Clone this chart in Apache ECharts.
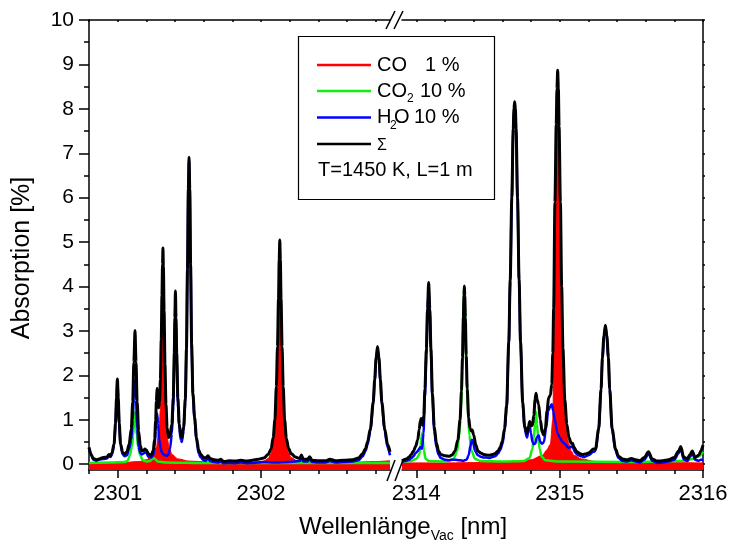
<!DOCTYPE html>
<html>
<head>
<meta charset="utf-8">
<script src="https://cdn.jsdelivr.net/npm/echarts@6/dist/echarts.min.js"></script>
<style>
  html, body { margin: 0; padding: 0; background: #ffffff; }
  #chart { width: 732px; height: 550px; }
</style>
</head>
<body>
<div id="chart"></div>
<script>
// Absorption spectra [nm, %] for 1 % CO, 10 % CO2, 10 % H2O and their sum
const coData = [
  [2300.8,0.02],[2301.0,0.03],[2301.15,0.06],[2301.2,0.1],[2301.24,0.18],[2301.27,0.38],[2301.29,0.8],
  [2301.297,1.2],[2301.303,2.0],[2301.309,3.3],[2301.313,4.3],[2301.316,4.8],[2301.319,4.3],[2301.324,3.2],
  [2301.33,2.0],[2301.337,1.1],[2301.345,0.6],[2301.36,0.35],[2301.38,0.22],[2301.42,0.12],[2301.5,0.07],
  [2301.7,0.04],[2301.95,0.05],[2302.02,0.07],[2302.05,0.13],[2302.07,0.24],[2302.085,0.48],[2302.097,0.9],
  [2302.107,1.65],[2302.115,2.55],[2302.122,3.65],[2302.127,4.55],[2302.131,5.0],[2302.135,4.55],
  [2302.14,3.65],[2302.147,2.55],[2302.155,1.65],[2302.165,0.9],[2302.177,0.48],[2302.192,0.26],
  [2302.21,0.15],[2302.25,0.08],[2302.35,0.05],[2302.6,0.04],[2302.8,0.06],[2302.9,0.08],
  [2313.9,0.03],[2314.2,0.03],[2314.5,0.04],[2314.7,0.06],[2314.8,0.1],[2314.88,0.2],[2314.91,0.32],
  [2314.935,0.45],[2314.952,1.0],[2314.958,1.9],[2314.967,4.4],[2314.976,6.7],[2314.981,8.0],[2314.986,8.6],
  [2314.991,8.0],[2314.996,6.8],[2315.005,5.0],[2315.014,3.3],[2315.023,2.0],[2315.036,1.05],[2315.05,0.66],
  [2315.065,0.45],[2315.08,0.3],[2315.1,0.2],[2315.15,0.12],[2315.25,0.06],[2315.5,0.04],[2316.0,0.03]
];

const co2Data = [
  [2300.8,0.03],[2300.95,0.04],[2301.05,0.05],[2301.07,0.08],[2301.085,0.2],[2301.1,0.4],[2301.108,0.65],
  [2301.115,0.95],[2301.121,1.17],[2301.127,0.95],[2301.134,0.65],[2301.142,0.4],[2301.157,0.2],
  [2301.175,0.09],[2301.2,0.06],[2301.225,0.07],[2301.24,0.11],[2301.252,0.14],[2301.262,0.11],
  [2301.28,0.06],[2301.33,0.04],[2301.6,0.03],[2302.2,0.03],[2302.9,0.03],
  [2313.9,0.05],[2313.96,0.07],[2314.0,0.12],[2314.02,0.22],[2314.03,0.42],[2314.036,0.62],[2314.04,0.7],
  [2314.045,0.58],[2314.052,0.32],[2314.065,0.12],[2314.09,0.07],[2314.2,0.06],[2314.26,0.12],
  [2314.285,0.3],[2314.3,0.65],[2314.312,1.3],[2314.32,2.1],[2314.327,3.05],[2314.332,3.75],[2314.335,4.0],
  [2314.338,3.75],[2314.343,3.05],[2314.35,2.1],[2314.358,1.3],[2314.37,0.65],[2314.385,0.3],[2314.41,0.12],
  [2314.45,0.07],[2314.6,0.06],[2314.75,0.07],[2314.79,0.14],[2314.81,0.35],[2314.82,0.6],[2314.828,0.9],
  [2314.835,1.18],[2314.842,0.9],[2314.85,0.6],[2314.86,0.35],[2314.875,0.17],[2314.9,0.09],[2315.0,0.06],
  [2315.5,0.05],[2315.85,0.07],[2315.93,0.12],[2315.97,0.18],[2316.0,0.28]
];

const h2oData = [
  [2300.8,0.36],[2300.815,0.2],[2300.83,0.1],[2300.85,0.08],[2300.87,0.1],[2300.9,0.12],[2300.925,0.13],
  [2300.94,0.18],[2300.95,0.16],[2300.96,0.22],[2300.975,0.43],[2300.985,0.88],[2300.992,1.48],
  [2300.998,1.9],[2301.004,1.48],[2301.011,0.88],[2301.02,0.43],[2301.035,0.22],[2301.05,0.18],
  [2301.065,0.2],[2301.08,0.35],[2301.095,0.55],[2301.105,1.0],[2301.113,1.5],[2301.121,1.9],
  [2301.128,1.45],[2301.136,0.8],[2301.146,0.4],[2301.158,0.25],[2301.168,0.22],[2301.18,0.24],
  [2301.19,0.27],[2301.2,0.25],[2301.215,0.17],[2301.235,0.15],[2301.248,0.2],[2301.258,0.4],
  [2301.265,0.75],[2301.27,1.05],[2301.275,1.15],[2301.282,0.9],[2301.29,0.55],[2301.3,0.35],
  [2301.31,0.25],[2301.33,0.2],[2301.345,0.19],[2301.355,0.22],[2301.365,0.35],[2301.378,0.68],
  [2301.388,1.3],[2301.395,2.3],[2301.399,3.1],[2301.403,3.75],[2301.407,3.1],[2301.412,2.35],
  [2301.42,1.38],[2301.43,0.8],[2301.44,0.55],[2301.448,0.5],[2301.46,0.75],[2301.472,1.4],
  [2301.48,2.5],[2301.487,4.3],[2301.493,6.1],[2301.498,6.84],[2301.503,6.1],[2301.509,4.4],
  [2301.516,2.6],[2301.525,1.5],[2301.537,0.97],[2301.55,0.52],[2301.565,0.24],[2301.58,0.15],
  [2301.6,0.09],[2301.615,0.08],[2301.63,0.13],[2301.645,0.07],[2301.67,0.05],[2301.7,0.04],
  [2301.72,0.06],[2301.74,0.02],[2301.78,0.03],[2301.82,0.02],[2301.86,0.04],[2301.9,0.02],
  [2301.94,0.03],[2301.98,0.04],[2302.02,0.05],[2302.1,0.04],[2302.2,0.05],[2302.27,0.07],
  [2302.282,0.15],[2302.295,0.06],[2302.325,0.06],[2302.34,0.12],[2302.355,0.05],[2302.4,0.04],
  [2302.45,0.04],[2302.48,0.07],[2302.52,0.04],[2302.58,0.05],[2302.64,0.06],[2302.68,0.09],
  [2302.71,0.18],[2302.73,0.3],[2302.743,0.44],[2302.763,0.74],[2302.783,1.34],[2302.793,1.84],
  [2302.803,2.34],[2302.813,2.58],[2302.823,2.34],[2302.833,1.84],[2302.843,1.34],[2302.863,0.74],
  [2302.883,0.38],[2302.9,0.2],
  [2313.9,0.05],[2313.93,0.08],[2313.95,0.1],[2313.965,0.14],[2313.98,0.18],[2313.995,0.25],
  [2314.01,0.3],[2314.02,0.35],[2314.028,0.38],[2314.034,0.36],[2314.04,0.35],[2314.05,0.7],
  [2314.06,1.5],[2314.07,2.45],[2314.078,3.4],[2314.086,4.0],[2314.094,3.4],[2314.102,2.5],
  [2314.112,1.5],[2314.125,0.75],[2314.14,0.38],[2314.155,0.22],[2314.17,0.14],[2314.2,0.1],
  [2314.23,0.09],[2314.25,0.1],[2314.27,0.1],[2314.3,0.09],[2314.33,0.08],[2314.35,0.1],
  [2314.365,0.2],[2314.378,0.42],[2314.388,0.55],[2314.395,0.5],[2314.41,0.3],[2314.43,0.2],
  [2314.45,0.17],[2314.47,0.15],[2314.49,0.15],[2314.51,0.14],[2314.53,0.16],[2314.55,0.18],
  [2314.57,0.24],[2314.585,0.32],[2314.6,0.45],[2314.615,0.72],[2314.63,1.25],[2314.645,2.7],
  [2314.655,4.1],[2314.666,5.95],[2314.676,7.5],[2314.681,7.95],[2314.686,8.1],[2314.691,7.95],
  [2314.696,7.5],[2314.706,5.95],[2314.717,4.1],[2314.727,2.7],[2314.742,1.35],[2314.756,0.78],
  [2314.772,0.6],[2314.782,0.75],[2314.791,0.85],[2314.8,0.7],[2314.81,0.5],[2314.82,0.45],
  [2314.83,0.47],[2314.84,0.6],[2314.853,0.65],[2314.865,0.5],[2314.878,0.46],[2314.89,0.5],
  [2314.905,0.8],[2314.92,1.2],[2314.935,1.3],[2314.945,1.35],[2314.955,1.2],[2314.965,1.0],
  [2314.985,0.7],[2315.0,0.6],[2315.02,0.5],[2315.04,0.45],[2315.055,0.38],[2315.065,0.37],
  [2315.08,0.4],[2315.092,0.37],[2315.11,0.25],[2315.13,0.2],[2315.15,0.18],[2315.17,0.16],
  [2315.2,0.2],[2315.237,0.28],[2315.25,0.3],[2315.272,0.76],[2315.289,1.66],[2315.298,2.36],
  [2315.309,2.86],[2315.319,3.09],[2315.329,2.86],[2315.34,2.36],[2315.349,1.66],[2315.366,0.76],
  [2315.39,0.3],[2315.41,0.14],[2315.44,0.07],[2315.47,0.06],[2315.5,0.09],[2315.53,0.06],
  [2315.56,0.04],[2315.59,0.1],[2315.62,0.23],[2315.645,0.08],[2315.68,0.03],[2315.72,0.04],
  [2315.76,0.06],[2315.8,0.1],[2315.83,0.25],[2315.845,0.35],[2315.865,0.11],[2315.89,0.07],
  [2315.91,0.17],[2315.925,0.25],[2315.945,0.1],[2315.97,0.08],[2315.985,0.1],[2316.0,0.1]
];

const sumData = [
  [2300.8,0.38],[2300.815,0.22],[2300.83,0.13],[2300.85,0.1],[2300.87,0.12],[2300.9,0.15],[2300.925,0.16],
  [2300.94,0.22],[2300.95,0.19],[2300.96,0.25],[2300.975,0.46],[2300.985,0.92],[2300.992,1.5],
  [2300.998,1.92],[2301.004,1.5],[2301.011,0.92],[2301.02,0.46],[2301.035,0.26],[2301.05,0.23],
  [2301.065,0.28],[2301.08,0.45],[2301.095,0.8],[2301.105,1.4],[2301.113,2.3],[2301.121,3.01],
  [2301.128,2.3],[2301.136,1.4],[2301.146,0.75],[2301.158,0.42],[2301.168,0.3],[2301.18,0.31],
  [2301.19,0.34],[2301.2,0.32],[2301.215,0.23],[2301.235,0.2],[2301.248,0.31],[2301.258,0.57],
  [2301.265,0.98],[2301.27,1.42],[2301.275,1.71],[2301.28,1.45],[2301.286,1.27],[2301.292,1.4],
  [2301.298,1.9],[2301.304,2.8],[2301.309,3.8],[2301.313,4.5],[2301.316,4.87],[2301.319,4.45],
  [2301.324,3.45],[2301.33,2.25],[2301.337,1.35],[2301.345,0.82],[2301.355,0.6],[2301.365,0.65],
  [2301.378,0.9],[2301.388,1.5],[2301.395,2.5],[2301.399,3.3],[2301.403,3.9],[2301.407,3.3],
  [2301.412,2.5],[2301.42,1.5],[2301.43,0.9],[2301.44,0.65],[2301.448,0.6],[2301.46,0.83],
  [2301.472,1.48],[2301.48,2.6],[2301.487,4.4],[2301.493,6.2],[2301.498,6.91],[2301.503,6.2],
  [2301.509,4.5],[2301.516,2.7],[2301.525,1.6],[2301.537,1.05],[2301.55,0.6],[2301.565,0.32],
  [2301.58,0.22],[2301.6,0.15],[2301.615,0.14],[2301.63,0.19],[2301.645,0.13],[2301.67,0.1],
  [2301.7,0.09],[2301.72,0.11],[2301.74,0.06],[2301.78,0.08],[2301.82,0.07],[2301.86,0.09],
  [2301.9,0.07],[2301.94,0.09],[2301.98,0.11],[2302.02,0.14],[2302.05,0.22],[2302.07,0.34],
  [2302.085,0.6],[2302.097,1.0],[2302.107,1.75],[2302.115,2.65],[2302.122,3.72],[2302.127,4.6],
  [2302.131,5.05],[2302.135,4.6],[2302.14,3.72],[2302.147,2.65],[2302.155,1.75],[2302.165,1.0],
  [2302.177,0.58],[2302.192,0.36],[2302.21,0.24],[2302.24,0.16],[2302.27,0.13],[2302.282,0.21],
  [2302.295,0.11],[2302.325,0.11],[2302.34,0.17],[2302.355,0.09],[2302.4,0.08],[2302.45,0.08],
  [2302.48,0.11],[2302.52,0.08],[2302.58,0.09],[2302.64,0.1],[2302.68,0.14],[2302.71,0.24],
  [2302.73,0.36],[2302.743,0.5],[2302.763,0.8],[2302.783,1.4],[2302.793,1.9],[2302.803,2.4],
  [2302.813,2.65],[2302.823,2.4],[2302.833,1.9],[2302.843,1.4],[2302.863,0.8],[2302.883,0.45],
  [2302.9,0.28],
  [2313.9,0.08],[2313.93,0.12],[2313.95,0.16],[2313.965,0.22],[2313.98,0.3],[2313.995,0.4],
  [2314.01,0.55],[2314.02,0.78],[2314.028,0.98],[2314.034,1.03],[2314.04,0.92],[2314.045,0.88],
  [2314.052,1.1],[2314.06,1.7],[2314.07,2.6],[2314.078,3.5],[2314.086,4.09],[2314.094,3.5],
  [2314.102,2.6],[2314.112,1.6],[2314.125,0.85],[2314.14,0.48],[2314.155,0.3],[2314.17,0.22],
  [2314.2,0.19],[2314.23,0.18],[2314.25,0.21],[2314.27,0.3],[2314.29,0.55],[2314.305,1.0],
  [2314.315,1.65],[2314.322,2.4],[2314.328,3.3],[2314.332,3.8],[2314.335,4.01],[2314.338,3.8],
  [2314.342,3.3],[2314.348,2.45],[2314.355,1.7],[2314.365,1.05],[2314.375,0.8],[2314.383,0.75],
  [2314.39,0.77],[2314.4,0.66],[2314.415,0.43],[2314.43,0.3],[2314.45,0.25],[2314.47,0.22],
  [2314.49,0.21],[2314.51,0.2],[2314.53,0.22],[2314.55,0.24],[2314.57,0.3],[2314.585,0.38],
  [2314.6,0.52],[2314.615,0.8],[2314.63,1.32],[2314.645,2.75],[2314.655,4.15],[2314.666,6.0],
  [2314.676,7.55],[2314.681,8.0],[2314.686,8.16],[2314.691,8.0],[2314.696,7.55],[2314.706,6.0],
  [2314.717,4.15],[2314.727,2.75],[2314.742,1.4],[2314.756,0.85],[2314.772,0.7],[2314.782,0.85],
  [2314.791,0.96],[2314.8,0.86],[2314.81,0.88],[2314.82,1.1],[2314.828,1.45],[2314.835,1.6],
  [2314.843,1.45],[2314.853,1.35],[2314.865,1.0],[2314.878,0.72],[2314.888,0.66],[2314.9,0.8],
  [2314.912,1.2],[2314.923,1.5],[2314.935,1.55],[2314.945,1.8],[2314.952,2.5],[2314.958,3.5],
  [2314.967,5.9],[2314.976,7.65],[2314.981,8.45],[2314.986,8.87],[2314.991,8.45],[2314.996,7.6],
  [2315.005,5.9],[2315.014,4.0],[2315.023,2.6],[2315.036,1.45],[2315.05,0.9],[2315.065,0.6],
  [2315.08,0.47],[2315.09,0.47],[2315.1,0.38],[2315.12,0.28],[2315.14,0.24],[2315.16,0.22],
  [2315.18,0.23],[2315.2,0.25],[2315.237,0.34],[2315.25,0.34],[2315.272,0.8],[2315.289,1.7],
  [2315.298,2.4],[2315.309,2.9],[2315.319,3.13],[2315.329,2.9],[2315.34,2.4],[2315.349,1.7],
  [2315.366,0.8],[2315.39,0.34],[2315.41,0.18],[2315.44,0.12],[2315.47,0.1],[2315.5,0.13],
  [2315.53,0.1],[2315.56,0.08],[2315.59,0.15],[2315.62,0.28],[2315.645,0.12],[2315.68,0.07],
  [2315.72,0.08],[2315.76,0.1],[2315.8,0.15],[2315.83,0.3],[2315.845,0.4],[2315.865,0.16],
  [2315.89,0.12],[2315.91,0.22],[2315.925,0.3],[2315.945,0.15],[2315.97,0.2],[2315.985,0.3],
  [2316.0,0.43]
];

// Broken wavelength axis: two segments
const segments = [[2300.8, 2302.9], [2313.9, 2316.0]];
const xLabelsLeft = [2301, 2302];
const xLabelsRight = [2314, 2315, 2316];
const xMinorLeft = [2300.8, 2301.2, 2301.4, 2301.6, 2301.8, 2302.2, 2302.4, 2302.6, 2302.8];
const xMinorRight = [2314.2, 2314.4, 2314.6, 2314.8, 2315.2, 2315.4, 2315.6, 2315.8];
const yLabels = [0, 1, 2, 3, 4, 5, 6, 7, 8, 9, 10];
const yMinor = [0.5, 1.5, 2.5, 3.5, 4.5, 5.5, 6.5, 7.5, 8.5, 9.5];
const yRange = [-0.13, 10];

const FONT = "'Liberation Sans', Arial, sans-serif";
const BLACK = '#000000';

function inRange(data, r) {
  return data.filter(p => p[0] >= r[0] - 1e-9 && p[0] <= r[1] + 1e-9);
}

const grids = [
  { left: 89, top: 20, width: 301, height: 450 },
  { left: 402, top: 20, width: 301, height: 450 }
];

const xAxes = [];
const yAxes = [];
const series = [];

segments.forEach((r, gi) => {
  const labels = gi === 0 ? xLabelsLeft : xLabelsRight;
  const minors = gi === 0 ? xMinorLeft : xMinorRight;
  const base = { gridIndex: gi, type: 'value', min: r[0], max: r[1], splitLine: { show: false } };
  // bottom axis with labelled major ticks
  xAxes.push(Object.assign({}, base, {
    position: 'bottom',
    axisLine: { show: true, onZero: false, lineStyle: { color: BLACK, width: 1.5 } },
    axisTick: { show: true, customValues: labels, length: 8, lineStyle: { color: BLACK, width: 1.5 } },
    axisLabel: { show: true, customValues: labels, color: BLACK, fontFamily: FONT, fontSize: 22, margin: 13,
      formatter: v => String(Math.round(v)) }
  }));
  // bottom minor ticks
  xAxes.push(Object.assign({}, base, {
    position: 'bottom',
    axisLine: { show: false, onZero: false },
    axisTick: { show: true, customValues: minors, length: 4, lineStyle: { color: BLACK, width: 1.5 } },
    axisLabel: { show: false }
  }));
  // top frame
  xAxes.push(Object.assign({}, base, {
    position: 'top',
    axisLine: { show: true, onZero: false, lineStyle: { color: BLACK, width: 1.5 } },
    axisTick: { show: true, inside: true, customValues: labels.concat(minors), length: 2, lineStyle: { color: BLACK, width: 1.5 } },
    axisLabel: { show: false }
  }));
});

// left y axis (labels + major ticks), left minor ticks, right frame
yAxes.push({
  gridIndex: 0, type: 'value', min: yRange[0], max: yRange[1], position: 'left',
  axisLine: { show: true, onZero: false, lineStyle: { color: BLACK, width: 1.5 } },
  axisTick: { show: true, customValues: yLabels, length: 10, lineStyle: { color: BLACK, width: 1.5 } },
  axisLabel: { show: true, customValues: yLabels, color: BLACK, fontFamily: FONT, fontSize: 21, margin: 15 },
  splitLine: { show: false }
});
yAxes.push({
  gridIndex: 0, type: 'value', min: yRange[0], max: yRange[1], position: 'left',
  axisLine: { show: false, onZero: false },
  axisTick: { show: true, customValues: yMinor, length: 5, lineStyle: { color: BLACK, width: 1.5 } },
  axisLabel: { show: false },
  splitLine: { show: false }
});
yAxes.push({
  gridIndex: 1, type: 'value', min: yRange[0], max: yRange[1], position: 'right',
  axisLine: { show: true, onZero: false, lineStyle: { color: BLACK, width: 1.5 } },
  axisTick: { show: true, customValues: yLabels.concat(yMinor), length: 2, lineStyle: { color: BLACK, width: 1.5 } },
  axisLabel: { show: false },
  splitLine: { show: false }
});

const specs = [
  { name: 'CO', data: coData, color: '#ff0000', width: 1, area: true },
  { name: 'CO2', data: co2Data, color: '#10f010', width: 2.5 },
  { name: 'H2O', data: h2oData, color: '#0000ff', width: 2.5 },
  { name: 'Σ', data: sumData, color: '#000000', width: 3 }
];

segments.forEach((r, gi) => {
  specs.forEach((s) => {
    series.push({
      name: s.name,
      type: 'line',
      xAxisIndex: gi * 3,
      yAxisIndex: gi === 0 ? 0 : 2,
      data: inRange(s.data, r),
      showSymbol: false,
      symbol: 'none',
      smooth: 0.3,
      smoothMonotone: 'x',
      clip: true,
      animation: false,
      lineStyle: { color: s.color, width: s.width, join: 'round' },
      itemStyle: { color: s.color },
      areaStyle: s.area ? { color: s.color, opacity: 1, origin: 'start' } : undefined
    });
  });
});

// legend box, break marks and axis titles
const legendX = 317, lineLen = 54, textX = 377;
const rows = [65, 91, 117.5, 144];
const graphics = [
  { type: 'rect', z: 100, shape: { x: 298.5, y: 36.5, width: 196, height: 163 },
    style: { fill: '#ffffff', stroke: BLACK, lineWidth: 1.2 } }
];
specs.forEach((s, i) => {
  graphics.push({ type: 'line', z: 101, shape: { x1: legendX, y1: rows[i], x2: legendX + lineLen, y2: rows[i] },
    style: { stroke: s.color, lineWidth: 2.5 } });
});
const legendTexts = [
  { x: textX, y: rows[0], text: 'CO' },
  { x: 425, y: rows[0], text: '1 %' },
  { x: textX, y: rows[1], text: 'CO' },
  { x: 407, y: rows[1] + 8, text: '2', size: 12 },
  { x: 420, y: rows[1], text: '10 %' },
  { x: textX, y: rows[2], text: 'H' },
  { x: 390, y: rows[2] + 8, text: '2', size: 12 },
  { x: 394, y: rows[2], text: 'O' },
  { x: 414, y: rows[2], text: '10 %' },
  { x: textX, y: rows[3] + 2, text: 'Σ', size: 16 },
  { x: 318, y: 170, text: 'T=1450 K, L=1 m' }
];
legendTexts.forEach(t => {
  graphics.push({ type: 'text', z: 102, x: t.x, y: t.y,
    style: { text: t.text, fill: BLACK, fontFamily: FONT, fontSize: t.size || 20,
      align: 'left', verticalAlign: 'middle' } });
});
// break marks
[[387, 481, 395, 460], [395, 481, 403, 460], [386, 29, 395, 11], [394, 29, 403, 11]].forEach(l => {
  graphics.push({ type: 'line', z: 110, shape: { x1: l[0], y1: l[1], x2: l[2], y2: l[3] },
    style: { stroke: BLACK, lineWidth: 1.5 } });
});
graphics.push({ type: 'text', z: 102, x: 22, y: 258, rotation: Math.PI / 2,
  style: { text: 'Absorption [%]', fill: BLACK, fontFamily: FONT, fontSize: 25, align: 'center', verticalAlign: 'middle' } });
graphics.push({ type: 'text', z: 102, x: 299, y: 527,
  style: { text: 'Wellenlänge{v|Vac} [nm]', fill: BLACK, fontFamily: FONT, fontSize: 24, align: 'left', verticalAlign: 'middle',
    rich: { v: { fontSize: 14, fontFamily: FONT, fill: BLACK, padding: [18, 0, 0, 0] } } } });

const chart = echarts.init(document.getElementById('chart'));
chart.setOption({
  animation: false,
  backgroundColor: '#ffffff',
  grid: grids,
  xAxis: xAxes,
  yAxis: yAxes,
  series: series,
  graphic: graphics
});
</script>
</body>
</html>
